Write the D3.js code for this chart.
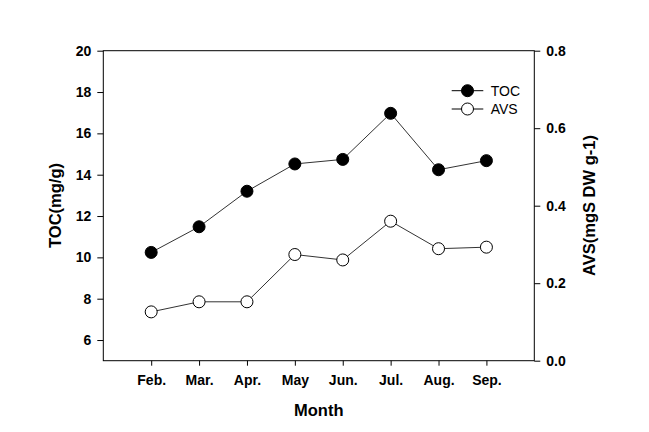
<!DOCTYPE html>
<html><head><meta charset="utf-8">
<script src="https://cdn.jsdelivr.net/npm/d3@7"></script>
<style>body{margin:0;background:#fff}svg{display:block}text{font-family:"Liberation Sans",Arial,sans-serif}</style>
</head><body>
<svg id="c" width="649" height="432"></svg>
<script>
const months = ["Feb.","Mar.","Apr.","May","Jun.","Jul.","Aug.","Sep."];
const toc = [10.24, 11.48, 13.2, 14.52, 14.74, 16.97, 14.24, 14.68];
const avs = [0.126, 0.152, 0.152, 0.274, 0.26, 0.36, 0.289, 0.293];
const leftTicks = [6,8,10,12,14,16,18,20];
const rightTicks = [0.0,0.2,0.4,0.6,0.8];

const L=103.3, R=534.3, T=50.7, B=360.7;
const svg = d3.select("#c");
const x = d3.scalePoint().domain(months).range([L,R]).padding(1);
const yL = d3.scaleLinear().domain([5,20]).range([B,T]);
const yR = d3.scaleLinear().domain([0,0.8]).range([B,T]);

svg.append("rect").attr("x",L).attr("y",T).attr("width",R-L).attr("height",B-T)
  .attr("fill","none").attr("stroke","#000").attr("stroke-width",1);

const ax = svg.append("g").attr("transform",`translate(0,${B})`)
  .call(d3.axisBottom(x).tickSize(5).tickPadding(9).tickSizeOuter(0));
const ayl = svg.append("g").attr("transform",`translate(${L},0)`)
  .call(d3.axisLeft(yL).tickValues(leftTicks).tickFormat(d3.format("d")).tickSize(6).tickPadding(6).tickSizeOuter(0));
const ayr = svg.append("g").attr("transform",`translate(${R},0)`)
  .call(d3.axisRight(yR).tickValues(rightTicks).tickFormat(d3.format(".1f")).tickSize(6).tickPadding(6).tickSizeOuter(0));
[ax,ayl,ayr].forEach(g=>{
  g.select(".domain").remove();
  g.selectAll("line").attr("stroke","#000");
  g.selectAll("text").attr("font-family","'Liberation Sans',Arial,sans-serif")
   .attr("font-size",14).attr("font-weight","bold").attr("fill","#000");
});

const line = (ys, arr) => d3.line().x((d,i)=>x(months[i])).y(d=>ys(d))(arr);
svg.append("path").attr("d",line(yL,toc)).attr("fill","none").attr("stroke","#333").attr("stroke-width",1);
svg.append("path").attr("d",line(yR,avs)).attr("fill","none").attr("stroke","#333").attr("stroke-width",1);
svg.selectAll(".toc").data(toc).enter().append("circle")
  .attr("cx",(d,i)=>x(months[i])).attr("cy",d=>yL(d)).attr("r",6).attr("fill","#000").attr("stroke","#000");
svg.selectAll(".avs").data(avs).enter().append("circle")
  .attr("cx",(d,i)=>x(months[i])).attr("cy",d=>yR(d)).attr("r",6).attr("fill","#fff").attr("stroke","#000");

// legend
const leg = [{n:"TOC",f:"#000",y:90.7},{n:"AVS",f:"#fff",y:109}];
leg.forEach(l=>{
  svg.append("line").attr("x1",451.7).attr("x2",483.3).attr("y1",l.y).attr("y2",l.y).attr("stroke","#000");
  svg.append("circle").attr("cx",467.5).attr("cy",l.y).attr("r",6).attr("fill",l.f).attr("stroke","#000");
  svg.append("text").attr("x",490.7).attr("y",l.y+5).attr("font-size",14).text(l.n);
});

svg.append("text").attr("x",(L+R)/2).attr("y",416).attr("text-anchor","middle")
  .attr("font-size",16.5).attr("font-weight","bold").text("Month");
svg.append("text").attr("transform",`translate(61,205.5) rotate(-90)`).attr("text-anchor","middle")
  .attr("font-size",16.5).attr("font-weight","bold").text("TOC(mg/g)");
svg.append("text").attr("transform",`translate(595,205.5) rotate(-90)`).attr("text-anchor","middle")
  .attr("font-size",16.5).attr("font-weight","bold").text("AVS(mgS DW g-1)");
</script>
</body></html>
